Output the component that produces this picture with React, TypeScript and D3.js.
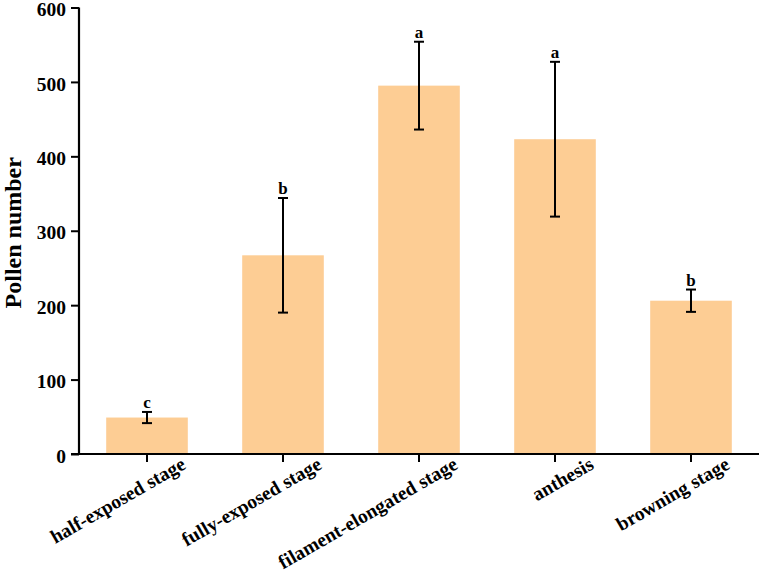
import React, { useRef, useEffect } from "react";
import * as d3 from "d3";

// Pollen counts per flowering stage (mean ± error) with significance letters
const stages = [
  "half-exposed stage",
  "fully-exposed stage",
  "filament-elongated stage",
  "anthesis",
  "browning stage",
];
const means = [49, 267, 495, 423, 206];
const errors = [7.5, 77, 59, 104, 15];
const letters = ["c", "b", "a", "a", "b"];
const yTicks = [0, 100, 200, 300, 400, 500, 600];

const FONT = "'Liberation Serif', 'Times New Roman', serif";

const PollenChart = () => {
  const svgRef = useRef<SVGSVGElement>(null);

  useEffect(() => {
    const svg = d3.select(svgRef.current);
    svg.selectAll("*").remove();

    const width = 759;
    const height = 574;
    const left = 79;
    const bottom = 454;
    const top = 7.5;

    svg.attr("width", width).attr("height", height);

    const x = d3
      .scaleBand()
      .domain(stages)
      .range([left, width])
      .paddingInner(0.4)
      .paddingOuter(0.2);

    const y = d3.scaleLinear().domain([0, 600]).range([bottom, top]);

    const data = stages.map((s, i) => ({
      stage: s,
      mean: means[i],
      err: errors[i],
      letter: letters[i],
    }));

    // bars
    svg
      .append("g")
      .selectAll("rect")
      .data(data)
      .join("rect")
      .attr("x", (d) => x(d.stage)!)
      .attr("y", (d) => y(d.mean))
      .attr("width", x.bandwidth())
      .attr("height", (d) => bottom - y(d.mean))
      .attr("fill", "#FDCD94");

    // error bars
    const eb = svg
      .append("g")
      .attr("stroke", "#000")
      .attr("stroke-width", 2)
      .selectAll("g")
      .data(data)
      .join("g")
      .attr("transform", (d) => `translate(${x(d.stage)! + x.bandwidth() / 2},0)`);
    eb.append("line")
      .attr("y1", (d) => y(d.mean + d.err))
      .attr("y2", (d) => y(d.mean - d.err));
    eb.append("line")
      .attr("x1", -5)
      .attr("x2", 5)
      .attr("y1", (d) => y(d.mean + d.err))
      .attr("y2", (d) => y(d.mean + d.err));
    eb.append("line")
      .attr("x1", -5)
      .attr("x2", 5)
      .attr("y1", (d) => y(d.mean - d.err))
      .attr("y2", (d) => y(d.mean - d.err));

    // significance letters
    svg
      .append("g")
      .selectAll("text")
      .data(data)
      .join("text")
      .attr("x", (d) => x(d.stage)! + x.bandwidth() / 2)
      .attr("y", (d) => y(d.mean + d.err) - 4)
      .attr("text-anchor", "middle")
      .attr("font-family", FONT)
      .attr("font-weight", "bold")
      .attr("font-size", 17)
      .text((d) => d.letter);

    // y axis
    const yAxis = svg
      .append("g")
      .attr("transform", `translate(${left},0)`)
      .call(d3.axisLeft(y).tickValues(yTicks).tickSize(8).tickPadding(5));
    yAxis.select(".domain").attr("stroke-width", 2.2).attr("d", `M0,${top}V${bottom}`);
    yAxis.selectAll(".tick line").attr("stroke-width", 2);
    yAxis
      .selectAll(".tick text")
      .attr("font-family", FONT)
      .attr("font-weight", "bold")
      .attr("font-size", 19.5)
      .attr("fill", "#000")
      .attr("dy", "0.42em");

    // x axis
    const xAxis = svg
      .append("g")
      .attr("transform", `translate(0,${bottom})`)
      .call(d3.axisBottom(x).tickSize(8));
    xAxis.select(".domain").attr("stroke-width", 2.2).attr("d", `M${left - 8},0H${width}`);
    xAxis.selectAll(".tick line").attr("stroke-width", 2);
    xAxis
      .selectAll(".tick text")
      .attr("font-family", FONT)
      .attr("font-weight", "bold")
      .attr("font-size", 19.5)
      .attr("fill", "#000")
      .attr("text-anchor", "end")
      .attr("dy", null)
      .attr("y", null)
      .attr("transform", "translate(40,14) rotate(-30)");

    // y title
    svg
      .append("text")
      .attr("transform", `translate(21,${(top + bottom) / 2 + 2}) rotate(-90)`)
      .attr("text-anchor", "middle")
      .attr("font-family", FONT)
      .attr("font-weight", "bold")
      .attr("font-size", 24)
      .text("Pollen number");
  }, []);

  return <svg ref={svgRef} style={{ display: "block" }}></svg>;
};

export default function App() {
  return (
    <>
      <style>{"body{margin:0}"}</style>
      <PollenChart />
    </>
  );
}
